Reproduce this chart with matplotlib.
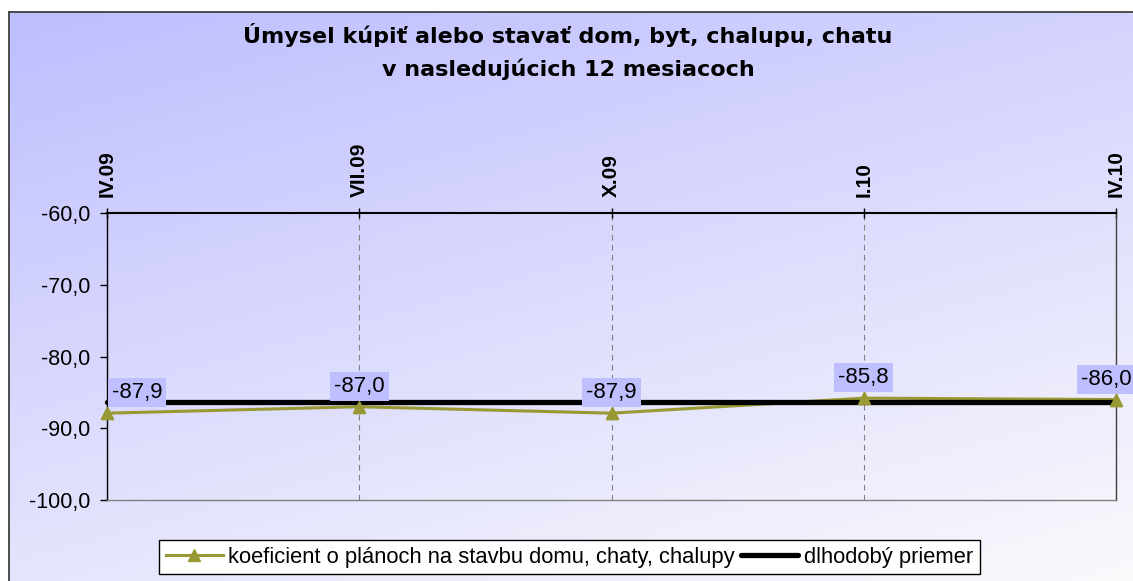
import matplotlib
matplotlib.use('Agg')
import matplotlib.pyplot as plt
import numpy as np
from matplotlib.lines import Line2D
from matplotlib.ticker import FuncFormatter

categories = ['IV.09', 'VII.09', 'X.09', 'I.10', 'IV.10']
koeficient = [-87.9, -87.0, -87.9, -85.8, -86.0]
priemer = [-86.4, -86.4, -86.4, -86.4, -86.4]
yticks = [-100, -90, -80, -70, -60]
title_lines = ['Úmysel kúpiť alebo stavať dom, byt, chalupu, chatu',
               'v nasledujúcich 12 mesiacoch']
series_names = ['koeficient o plánoch na stavbu domu, chaty, chalupy',
                'dlhodobý priemer']

plt.rcParams['font.family'] = ['Liberation Sans', 'DejaVu Sans']

W, H = 1133, 581
fig = plt.figure(figsize=(W / 100, H / 100), dpi=100)
fig.patch.set_facecolor('white')

# gradient chart-area background
bg = fig.add_axes([9 / W, 0, 1 - 9 / W, 1 - 12 / H], zorder=-10)
bg.set_axis_off()
nx, ny = 300, 160
xx = np.linspace(0, 1, nx)
yy = np.linspace(0, 1, ny)
X, Y = np.meshgrid(xx, yy)
t = np.clip(0.35 * X + 0.65 * Y, 0, 1)
img = np.zeros((ny, nx, 3))
img[..., 0] = (190 + 60 * t) / 255
img[..., 1] = (190 + 60 * t) / 255
img[..., 2] = (255 - 3 * t) / 255
bg.imshow(img, aspect='auto', extent=[0, 1, 0, 1], origin='upper', interpolation='bilinear')

fig.add_artist(Line2D([9 / W, 9 / W], [0, 1 - 12 / H], color='#404040', lw=1.3,
                      transform=fig.transFigure))
fig.add_artist(Line2D([9 / W, 1], [1 - 12 / H, 1 - 12 / H], color='#404040', lw=1.3,
                      transform=fig.transFigure))

ax = fig.add_axes([107 / W, 1 - 500 / H, (1116 - 107) / W, (500 - 213) / H])
ax.patch.set_alpha(0)

x = np.arange(len(categories))
olive = '#999933'
l1, = ax.plot(x, koeficient, color=olive, lw=2.2, marker='^', ms=9, zorder=3, clip_on=False)
l2, = ax.plot(x, priemer, color='black', lw=3.8, solid_capstyle='round', zorder=4, clip_on=False)
ax.plot(x, koeficient, ls='none', marker='^', ms=9, color=olive, zorder=5, clip_on=False)

label_dx_px = [30, 0, 0, 0, -10]
for xi, v, dx in zip(x, koeficient, label_dx_px):
    ax.annotate(f'{v:.1f}'.replace('.', ','), (xi, v), xytext=(dx * 0.72, 7),
                textcoords='offset points', ha='center', va='bottom', fontsize=16,
                zorder=6, annotation_clip=False,
                bbox=dict(boxstyle='square,pad=0.18', fc='#BFBFFF', ec='none'))

ax.set_xlim(0, len(categories) - 1)
ax.set_ylim(-100, -60)
ax.set_yticks(yticks)
ax.yaxis.set_major_formatter(FuncFormatter(lambda v, p: f'{v:.1f}'.replace('.', ',')))
ax.xaxis.tick_top()
ax.set_xticks(x)
ax.set_xticklabels(categories, rotation=90, fontweight='bold', fontsize=15)
ax.tick_params(axis='x', direction='inout', length=7, pad=8, width=1)
ax.tick_params(axis='y', direction='out', length=5, pad=7, labelsize=15.5, width=1)
for lab in ax.get_yticklabels():
    lab.set_fontsize(15.5)
for lab in ax.get_xticklabels():
    lab.set_fontsize(15)
    lab.set_fontweight('bold')
ax.xaxis.grid(True, ls=(0, (5, 4)), color='#808080', lw=0.8)

ax.spines['top'].set_linewidth(1.5)
ax.spines['top'].set_color('black')
ax.spines['left'].set_color('black')
ax.spines['right'].set_color('#404040')
ax.spines['bottom'].set_color('#808080')
for s in ['left', 'right', 'bottom']:
    ax.spines[s].set_linewidth(1)

for txt, yb in zip(title_lines, [43, 76]):
    fig.text(568 / W, 1 - yb / H, txt, ha='center', va='baseline', fontsize=16,
             fontweight='bold', family=['DejaVu Sans'])

leg = fig.legend([l1, l2], series_names, loc='upper left',
                 bbox_to_anchor=(159 / W, 1 - 540 / H), ncol=2, fontsize=15.8,
                 frameon=True, fancybox=False, edgecolor='black', framealpha=1,
                 borderpad=0.3, handlelength=2.6, handletextpad=0.25,
                 columnspacing=0.3, borderaxespad=0)
leg.get_frame().set_linewidth(1)

fig.savefig('out.png', dpi=100)
